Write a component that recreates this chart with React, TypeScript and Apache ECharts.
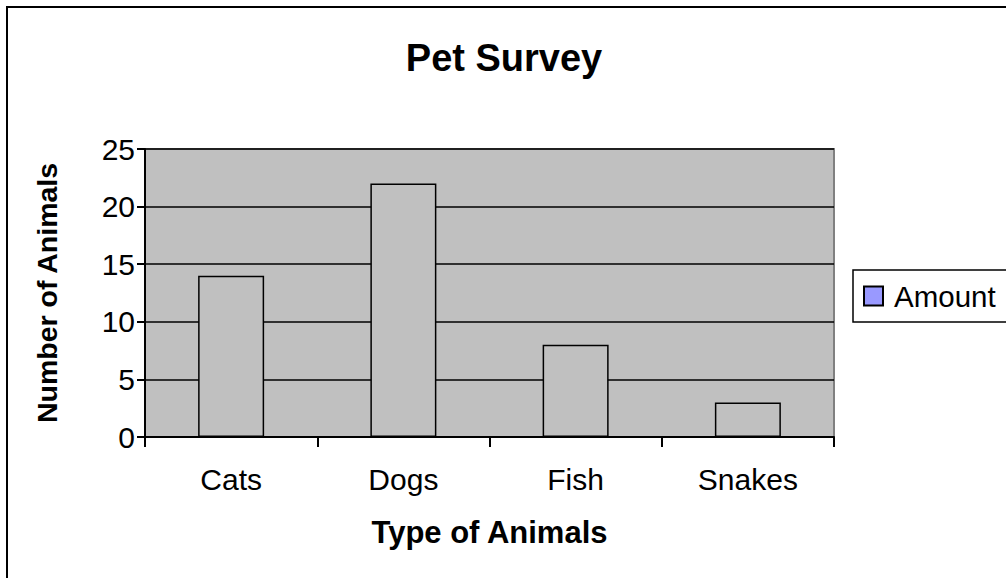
import React, { useEffect, useRef } from "react";
import * as echarts from "echarts";

const categories = ["Cats", "Dogs", "Fish", "Snakes"];
const amounts = [14, 22, 8, 3];
const seriesName = "Amount";
const chartTitle = "Pet Survey";
const xTitle = "Type of Animals";
const yTitle = "Number of Animals";

const FONT = "Arial, 'Liberation Sans', sans-serif";

export default function App() {
  const ref = useRef<HTMLDivElement>(null);
  useEffect(() => {
    if (!ref.current) return;
    const chart = echarts.init(ref.current, undefined, { renderer: "svg" });
    chart.setOption({
      animation: false,
      backgroundColor: "#ffffff",
      title: {
        text: chartTitle,
        left: 499,
        textAlign: "center",
        top: 34,
        textStyle: { fontFamily: FONT, fontSize: 38, fontWeight: "bold", color: "#000" },
      },
      legend: {
        left: 853,
        top: 270,
        orient: "vertical",
        padding: [11, 20, 11, 10],
        borderColor: "#000",
        borderWidth: 1.5,
        backgroundColor: "#fff",
        itemWidth: 19,
        itemHeight: 19,
        icon: "rect",
        textStyle: { fontFamily: FONT, fontSize: 29.5, color: "#000", padding: [0, 0, 0, 6] },
        data: [
          {
            name: seriesName,
            itemStyle: { color: "#9999FF", borderColor: "#000", borderWidth: 2 },
          },
        ],
      },
      graphic: [
        {
          type: "rect",
          shape: { x: 7, y: 7, width: 1020, height: 600 },
          style: { fill: "none", stroke: "#000", lineWidth: 2 },
          silent: true,
          z: 100,
        },
      ],
      grid: {
        left: 145,
        top: 149,
        width: 689,
        height: 288,
        show: true,
        backgroundColor: "#C0C0C0",
        borderColor: "#808080",
        borderWidth: 2,
      },
      xAxis: {
        type: "category",
        data: categories,
        name: xTitle,
        nameLocation: "middle",
        nameGap: 80,
        nameTextStyle: { fontFamily: FONT, fontSize: 31, fontWeight: "bold", color: "#000" },
        axisLine: { lineStyle: { color: "#000", width: 2 } },
        axisTick: { show: true, length: 10, lineStyle: { color: "#000", width: 2 } },
        axisLabel: { fontFamily: FONT, fontSize: 30, color: "#000", margin: 27 },
      },
      yAxis: {
        type: "value",
        min: 0,
        max: 25,
        interval: 5,
        name: yTitle,
        nameLocation: "middle",
        nameGap: 84,
        nameTextStyle: { fontFamily: FONT, fontSize: 28.5, fontWeight: "bold", color: "#000" },
        axisLine: { show: true, lineStyle: { color: "#000", width: 2 } },
        axisTick: { show: true, length: 8, lineStyle: { color: "#000", width: 2 } },
        axisLabel: { fontFamily: FONT, fontSize: 30, color: "#000", margin: 10 },
        splitLine: { show: true, lineStyle: { color: "#000", width: 1.5 } },
      },
      series: [
        {
          name: seriesName,
          type: "bar",
          data: amounts,
          barWidth: 66,
          itemStyle: { color: "#C0C0C0", borderColor: "#000", borderWidth: 1.5 },
        },
      ],
    });
    return () => chart.dispose();
  }, []);
  return (
    <div
      ref={ref}
      style={{ position: "absolute", left: 0, top: 0, width: 1006, height: 578 }}
    />
  );
}
